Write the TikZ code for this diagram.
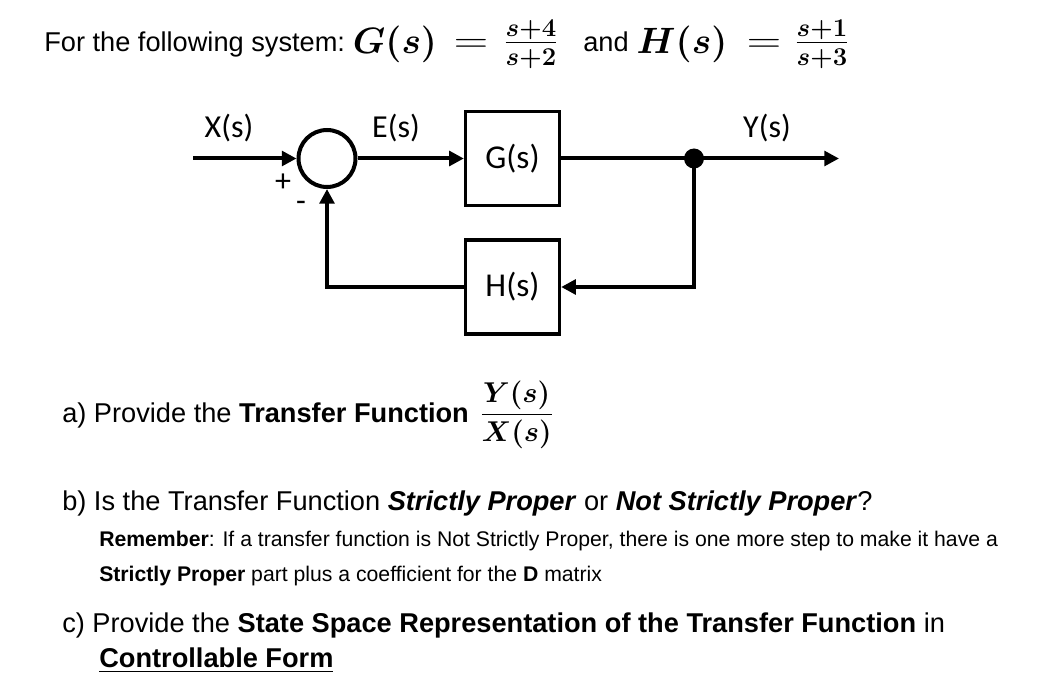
\RequirePackage{fix-cm}
\documentclass[tikz,border=0pt]{standalone}
\usepackage{amsmath}
\usepackage{graphicx}
\usepackage[no-math]{fontspec}
\setmainfont{Liberation Sans}
\newfontfamily\carlito{Carlito}
\usetikzlibrary{arrows.meta}
\begin{document}
\begin{tikzpicture}[x=0.75pt,y=-0.75pt,
  wire/.style={line width=3pt},
  arr/.style={wire,-{Triangle[length=11pt,width=11pt]}},
  blk/.style={draw,line width=2.5pt,minimum width=70.5pt,minimum height=70.5pt,inner sep=0pt,font=\carlito\fontsize{25}{29}\selectfont},
  lbl/.style={font=\carlito\fontsize{24}{28}\selectfont,inner sep=0pt},
  txt/.style={anchor=base west,inner sep=0pt,font=\fontsize{20.4}{24}\selectfont},
  mth/.style={anchor=base,inner sep=0pt,font=\fontsize{27.5}{32}\selectfont},
  small/.style={anchor=base west,inner sep=0pt,font=\fontsize{15.9}{19}\selectfont}]
\useasboundingbox[fill=white] (0,0) rectangle (1058,688);

% title line
\node[txt] (title) at (44,52) {For the following system:};
\node[mth] (gs) at (395,54) {$\boldsymbol{G(s)}$};
\node[mth] (geq) at (471,53) {\scalebox{1.3}[1]{$=$}};
\node[mth] (gfrac) at (531,52) {$\boldsymbol{\frac{s+4}{s+2}}$};
\node[txt] (and) at (583,52) {and};
\node[mth] (hs) at (682,54) {$\boldsymbol{H(s)}$};
\node[mth] (heq) at (764,53) {\scalebox{1.3}[1]{$=$}};
\node[mth] (hfrac) at (822,52) {$\boldsymbol{\frac{s+1}{s+3}}$};

% block diagram
\coordinate (in) at (193,158.5);
\coordinate (out) at (839,158.5);
\node[circle,draw,line width=3pt,minimum size=42.75pt,inner sep=0pt] (sum) at (327,158.5) {};
\node[blk] (G) at (512.5,158.5) {G(s)};
\node[blk] (H) at (512.5,287) {H(s)};
\node[circle,fill,minimum size=15pt,inner sep=0pt] (dot) at (694,158.5) {};

\draw[arr] (in) -- (sum.west);
\draw[arr] (sum.east) -- (G.west);
\draw[wire] (G.east) -- (dot.center);
\draw[arr] (dot.center) -- (out);
\draw[arr] (dot.center) |- (H.east);
\draw[arr] (H.west) -| (sum.south);

\node[lbl] (xl) at (229,128) {X(s)};
\node[lbl] (el) at (396,128) {E(s)};
\node[lbl] (yl) at (767,128) {Y(s)};
\node[lbl] (plus) at (283,183) {+};
\node[lbl] (minus) at (301,206) {-};

% questions
\node[txt] (qa) at (62,422) {a)\ Provide the \textbf{Transfer Function}};
\node[anchor=base west,inner sep=0pt,font=\fontsize{21.5}{24}\selectfont] (tf) at (480,422) {$\dfrac{\boldsymbol{Y(s)}}{\boldsymbol{X(s)}}$};
\node[txt] (qb) at (62,510) {b)\ Is the Transfer Function \textbf{\textit{Strictly Proper}} or \textbf{\textit{Not Strictly Proper}}?};
\node[small] (rem) at (99,546) {\textbf{Remember}: If a transfer function is Not Strictly Proper, there is one more step to make it have a};
\node[small] (rem2) at (99,581) {\textbf{Strictly Proper} part plus a coefficient for the \textbf{D} matrix};
\node[txt] (qc) at (62,632) {c)\ Provide the \textbf{State Space Representation of the Transfer Function} in};
\node[txt] (qc2) at (99,667) {\underline{\textbf{Controllable Form}}};
\end{tikzpicture}
\end{document}
